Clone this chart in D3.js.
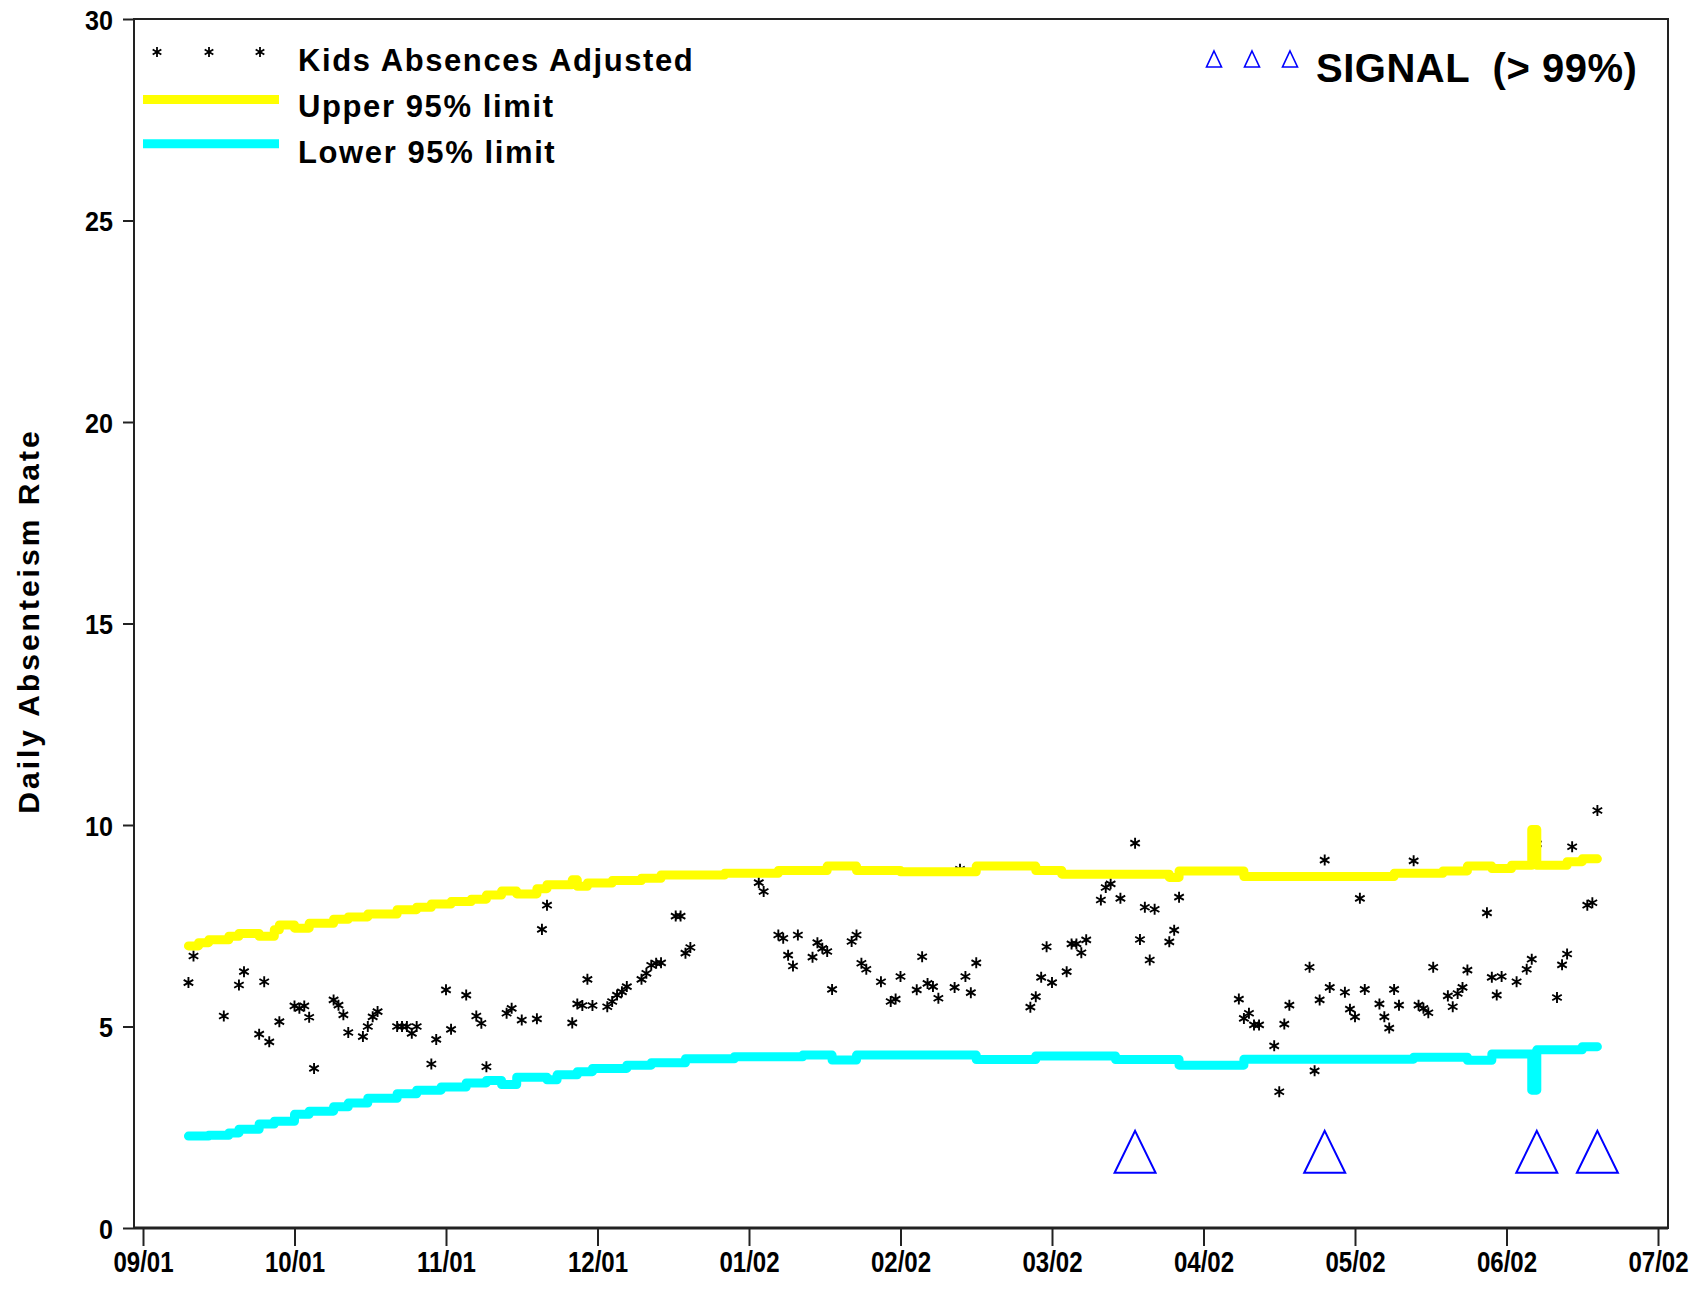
<!DOCTYPE html>
<html>
<head>
<meta charset="utf-8">
<script src="https://cdn.jsdelivr.net/npm/d3@7"></script>
<style>
  html, body { margin: 0; padding: 0; background: #ffffff; }
  svg { display: block; }
  .tick-label { font-family: "Liberation Sans", Arial, sans-serif; font-weight: bold; fill: #000; }
  .legend-text { font-family: "Liberation Sans", Arial, sans-serif; font-weight: bold; fill: #000; }
</style>
</head>
<body>
<script>
// Daily kids absenteism, school year 2001-2002, with 95% control limits
const monthLabels = ["09/01", "10/01", "11/01", "12/01", "01/02", "02/02", "03/02", "04/02", "05/02", "06/02", "07/02"];
const yTicks = [0, 5, 10, 15, 20, 25, 30];

const absenceDates = [
  "2001-09-10","2001-09-11","2001-09-17","2001-09-20","2001-09-21","2001-09-24","2001-09-25","2001-09-26","2001-09-28",
  "2001-10-01","2001-10-02","2001-10-03","2001-10-04","2001-10-05","2001-10-09","2001-10-10","2001-10-11","2001-10-12",
  "2001-10-15","2001-10-16","2001-10-17","2001-10-18","2001-10-22","2001-10-23","2001-10-24","2001-10-25","2001-10-26",
  "2001-10-29","2001-10-30",
  "2001-11-01","2001-11-02","2001-11-05","2001-11-07","2001-11-08","2001-11-09","2001-11-13","2001-11-14","2001-11-16",
  "2001-11-19","2001-11-20","2001-11-21","2001-11-26","2001-11-27","2001-11-28","2001-11-29","2001-11-30",
  "2001-12-03","2001-12-04","2001-12-05","2001-12-06","2001-12-07","2001-12-10","2001-12-11","2001-12-12","2001-12-13",
  "2001-12-14","2001-12-17","2001-12-18","2001-12-19","2001-12-20",
  "2002-01-03","2002-01-04","2002-01-07","2002-01-08","2002-01-09","2002-01-10","2002-01-11","2002-01-14","2002-01-15",
  "2002-01-16","2002-01-17","2002-01-18","2002-01-22","2002-01-23","2002-01-24","2002-01-25","2002-01-28","2002-01-30",
  "2002-01-31",
  "2002-02-01","2002-02-04","2002-02-05","2002-02-06","2002-02-07","2002-02-08","2002-02-11","2002-02-12","2002-02-13",
  "2002-02-14","2002-02-15","2002-02-25","2002-02-26","2002-02-27","2002-02-28",
  "2002-03-01","2002-03-04","2002-03-05","2002-03-06","2002-03-07","2002-03-08","2002-03-11","2002-03-12","2002-03-13",
  "2002-03-15","2002-03-18","2002-03-19","2002-03-20","2002-03-21","2002-03-22","2002-03-25","2002-03-26","2002-03-27",
  "2002-04-08","2002-04-09","2002-04-10","2002-04-11","2002-04-12","2002-04-15","2002-04-16","2002-04-17","2002-04-18",
  "2002-04-22","2002-04-23","2002-04-24","2002-04-25","2002-04-26","2002-04-29","2002-04-30",
  "2002-05-01","2002-05-02","2002-05-03","2002-05-06","2002-05-07","2002-05-08","2002-05-09","2002-05-10","2002-05-13",
  "2002-05-14","2002-05-15","2002-05-16","2002-05-17","2002-05-20","2002-05-21","2002-05-22","2002-05-23","2002-05-24",
  "2002-05-28","2002-05-29","2002-05-30","2002-05-31",
  "2002-06-03","2002-06-05","2002-06-06","2002-06-07","2002-06-11","2002-06-12","2002-06-13","2002-06-14","2002-06-17",
  "2002-06-18","2002-06-19"
];
const absenceRates = [
  6.09, 6.75, 5.26, 6.03, 6.36, 4.81, 6.11, 4.62, 5.12,
  5.51, 5.45, 5.51, 5.23, 3.96, 5.66, 5.53, 5.29, 4.85,
  4.75, 5.00, 5.24, 5.37, 5.00, 5.00, 5.00, 4.83, 5.00,
  4.07, 4.68,
  5.91, 4.93, 5.78, 5.26, 5.08, 4.00, 5.33, 5.45, 5.16,
  5.19, 7.41, 8.01, 5.09, 5.56, 5.52, 6.17, 5.52,
  5.49, 5.62, 5.78, 5.86, 5.99, 6.17, 6.32, 6.52, 6.57,
  6.58, 7.74, 7.74, 6.82, 6.96,
  8.57, 8.35, 7.27, 7.19, 6.77, 6.50, 7.27, 6.72, 7.08,
  6.94, 6.86, 5.92, 7.11, 7.27, 6.57, 6.42, 6.11, 5.62,
  5.68,
  6.24, 5.91, 6.73, 6.07, 5.99, 5.70, 5.97, 8.90, 6.24,
  5.84, 6.58, 5.48, 5.74, 6.22, 6.98,
  6.09, 6.36, 7.05, 7.05, 6.83, 7.15, 8.14, 8.45, 8.54,
  8.18, 9.55, 7.16, 7.96, 6.65, 7.91, 7.10, 7.39, 8.21,
  5.68, 5.20, 5.33, 5.04, 5.04, 4.52, 3.38, 5.06, 5.53,
  6.47, 3.90, 5.66, 9.13, 5.97, 5.85, 5.43,
  5.24, 8.18, 5.92, 5.56, 5.24, 4.96, 5.92, 5.53, 9.11,
  5.53, 5.45, 5.34, 6.47, 5.76, 5.49, 5.82, 5.97, 6.40,
  7.82, 6.22, 5.78, 6.24,
  6.11, 6.42, 6.67, 9.53, 5.72, 6.53, 6.80, 9.46, 8.01,
  8.07, 10.36
];

// Upper 95% limit, as level changes
const upperDates = [
  "2001-09-10","2001-09-12","2001-09-14","2001-09-18","2001-09-20","2001-09-24","2001-09-27","2001-09-28",
  "2001-10-01","2001-10-04","2001-10-09","2001-10-12","2001-10-16","2001-10-22","2001-10-26","2001-10-29",
  "2001-11-02","2001-11-06","2001-11-09","2001-11-12","2001-11-15","2001-11-19","2001-11-21","2001-11-26",
  "2001-11-27","2001-11-29","2001-12-04","2001-12-10","2001-12-14","2001-12-27",
  "2002-01-07","2002-01-17","2002-01-23","2002-02-01","2002-02-15","2002-02-26","2002-03-03","2002-03-25",
  "2002-03-27","2002-04-09","2002-05-09","2002-05-19","2002-05-24","2002-05-29","2002-06-02","2002-06-06",
  "2002-06-07","2002-06-13","2002-06-16","2002-06-19"
];
const upperLimits = [
  7.00, 7.08, 7.15, 7.24, 7.31, 7.24, 7.40, 7.52,
  7.44, 7.56, 7.66, 7.72, 7.79, 7.90, 7.96, 8.04,
  8.10, 8.16, 8.26, 8.36, 8.29, 8.42, 8.52, 8.64,
  8.48, 8.56, 8.62, 8.68, 8.76, 8.80,
  8.87, 8.98, 8.87, 8.84, 8.98, 8.87, 8.78, 8.70,
  8.86, 8.72, 8.80, 8.86, 8.98, 8.92, 9.00, 9.89,
  9.00, 9.09, 9.16, 9.16
];

// Lower 95% limit, as level changes
const lowerDates = [
  "2001-09-10","2001-09-14","2001-09-18","2001-09-20","2001-09-24","2001-09-27",
  "2001-10-01","2001-10-04","2001-10-09","2001-10-12","2001-10-16","2001-10-22","2001-10-26","2001-10-31",
  "2001-11-05","2001-11-09","2001-11-12","2001-11-15","2001-11-21","2001-11-23","2001-11-27","2001-11-30",
  "2001-12-07","2001-12-12","2001-12-19","2001-12-29",
  "2002-01-12","2002-01-18","2002-01-23","2002-02-15","2002-02-26","2002-03-14","2002-03-27","2002-04-09",
  "2002-05-13","2002-05-24","2002-05-29","2002-06-06","2002-06-07","2002-06-16","2002-06-19"
];
const lowerLimits = [
  2.28, 2.30, 2.36, 2.45, 2.58, 2.65,
  2.82, 2.90, 3.01, 3.10, 3.22, 3.33, 3.42, 3.50,
  3.60, 3.66, 3.56, 3.74, 3.68, 3.80, 3.88, 3.96,
  4.04, 4.10, 4.20, 4.25,
  4.29, 4.17, 4.29, 4.18, 4.27, 4.18, 4.04, 4.19,
  4.24, 4.16, 4.32, 3.42, 4.42, 4.50, 4.50
];

// Days flagged above the 99% limit
const signalDates = ["2002-03-18", "2002-04-25", "2002-06-07", "2002-06-19"];
const signalLevel = 1.89;

const W = 1694, H = 1293;
const frame = { left: 134, right: 1668, top: 19, bottom: 1228 };

const parse = d3.timeParse("%Y-%m-%d");
// Position in months from 09/2001; every month gets the same width on the axis
function monthPos(s) {
  const d = parse(s);
  const m = (d.getFullYear() - 2001) * 12 + d.getMonth() - 8;
  const dim = new Date(d.getFullYear(), d.getMonth() + 1, 0).getDate();
  return m + (d.getDate() - 1) / dim;
}

const x = d3.scaleLinear().domain([0, 10]).range([143, 1658]);
const y = d3.scaleLinear().domain([0, 30]).range([frame.bottom, frame.top]);

const svg = d3.select("body").append("svg").attr("width", W).attr("height", H);

const points = absenceDates.map((d, i) => ({ p: monthPos(d), v: absenceRates[i] }));
const upper = upperDates.map((d, i) => ({ p: monthPos(d), v: upperLimits[i] }));
const lower = lowerDates.map((d, i) => ({ p: monthPos(d), v: lowerLimits[i] }));

// Asterisk markers
const star = d3.symbol().type(d3.symbolAsterisk).size(85);
svg.append("g").selectAll("path").data(points).join("path")
  .attr("d", star)
  .attr("transform", d => `translate(${x(d.p)},${y(d.v)})`)
  .attr("fill", "none").attr("stroke", "#000").attr("stroke-width", 1.9);

// Control limit lines
const limitLine = d3.line().x(d => x(d.p)).y(d => y(d.v)).curve(d3.curveStepAfter);
svg.append("path").datum(upper).attr("d", limitLine)
  .attr("fill", "none").attr("stroke", "#ffff00").attr("stroke-width", 9)
  .attr("stroke-linejoin", "round").attr("stroke-linecap", "round");
svg.append("path").datum(lower).attr("d", limitLine)
  .attr("fill", "none").attr("stroke", "#00ffff").attr("stroke-width", 9)
  .attr("stroke-linejoin", "round").attr("stroke-linecap", "round");

// Signal triangles
function triPath(hw, hh) { return `M0,${-hh}L${hw},${hh}L${-hw},${hh}Z`; }
svg.append("g").selectAll("path").data(signalDates).join("path")
  .attr("d", triPath(20.5, 21))
  .attr("transform", d => `translate(${x(monthPos(d))},${y(signalLevel)})`)
  .attr("fill", "none").attr("stroke", "#0000ff").attr("stroke-width", 2);

// Frame
svg.append("rect")
  .attr("x", frame.left).attr("y", frame.top)
  .attr("width", frame.right - frame.left).attr("height", frame.bottom - frame.top)
  .attr("fill", "none").attr("stroke", "#222").attr("stroke-width", 2);
svg.append("line")
  .attr("x1", frame.left).attr("x2", frame.right)
  .attr("y1", frame.bottom).attr("y2", frame.bottom)
  .attr("stroke", "#222").attr("stroke-width", 3);

// Y axis (labels squeezed a little, like a condensed face)
const yAxis = svg.append("g").attr("transform", `translate(${frame.left},0)`)
  .call(d3.axisLeft(y).tickValues(yTicks).tickSize(11).tickSizeOuter(0).tickPadding(10));
yAxis.select(".domain").remove();
yAxis.selectAll("line").attr("stroke", "#222").attr("stroke-width", 2);
yAxis.selectAll("text").attr("class", "tick-label").attr("font-size", 28).attr("dy", 10)
  .attr("textLength", d => String(d).length * 14).attr("lengthAdjust", "spacingAndGlyphs");

// X axis, labels narrowed horizontally around each tick
const xAxis = svg.append("g").attr("transform", `translate(0,${frame.bottom})`)
  .call(d3.axisBottom(x).tickValues(d3.range(0, 11)).tickFormat(i => monthLabels[i]).tickSize(18).tickSizeOuter(0));
xAxis.select(".domain").remove();
xAxis.selectAll("line").attr("stroke", "#222").attr("stroke-width", 2);
xAxis.selectAll("text").attr("class", "tick-label").attr("font-size", 29).attr("y", 44).attr("dy", 0)
  .attr("transform", "scale(0.83,1)");

// Y axis title
svg.append("text").attr("class", "legend-text")
  .attr("transform", "translate(39,621) rotate(-90)")
  .attr("text-anchor", "middle").attr("font-size", 30).attr("letter-spacing", 3)
  .text("Daily Absenteism Rate");

// Legend
const lg = svg.append("g");
lg.selectAll("path.lstar").data([157, 209, 260]).join("path").attr("class", "lstar")
  .attr("d", d3.symbol().type(d3.symbolAsterisk).size(70))
  .attr("transform", d => `translate(${d},52)`)
  .attr("fill", "none").attr("stroke", "#000").attr("stroke-width", 1.8);
lg.append("text").attr("class", "legend-text").attr("x", 298).attr("y", 71)
  .attr("font-size", 31).attr("letter-spacing", 1.6).text("Kids Absences Adjusted");
lg.append("line").attr("x1", 143).attr("x2", 279).attr("y1", 99.5).attr("y2", 99.5)
  .attr("stroke", "#ffff00").attr("stroke-width", 9);
lg.append("text").attr("class", "legend-text").attr("x", 298).attr("y", 117)
  .attr("font-size", 31).attr("letter-spacing", 1.6).text("Upper 95% limit");
lg.append("line").attr("x1", 143).attr("x2", 279).attr("y1", 143.7).attr("y2", 143.7)
  .attr("stroke", "#00ffff").attr("stroke-width", 9);
lg.append("text").attr("class", "legend-text").attr("x", 298).attr("y", 163)
  .attr("font-size", 31).attr("letter-spacing", 1.6).text("Lower 95% limit");

lg.selectAll("path.ltri").data([1214, 1252, 1290]).join("path").attr("class", "ltri")
  .attr("d", triPath(7.5, 8))
  .attr("transform", d => `translate(${d},59)`)
  .attr("fill", "none").attr("stroke", "#0000ff").attr("stroke-width", 1.6);
lg.append("text").attr("class", "legend-text").attr("x", 1316).attr("y", 82)
  .attr("font-size", 40).attr("letter-spacing", 0.5).attr("xml:space", "preserve")
  .style("white-space", "pre").text("SIGNAL  (> 99%)");
</script>
</body>
</html>
